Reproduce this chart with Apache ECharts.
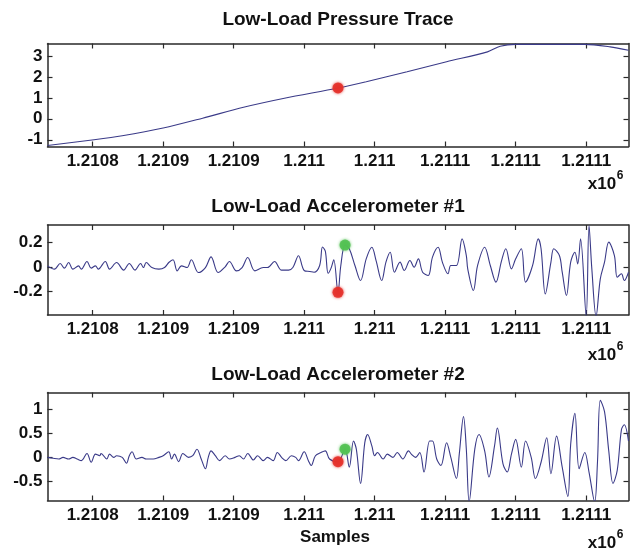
<!DOCTYPE html>
<html><head><meta charset="utf-8">
<script src="https://cdn.jsdelivr.net/npm/echarts@6/dist/echarts.min.js"></script>
<style>html,body{margin:0;padding:0;background:#fff}#c{width:635px;height:552px}</style>
</head><body><div id="c"></div>
<script>
// ---- shared x axis (samples) ----
const xTickValues = [1210800,1210850,1210900,1210950,1211000,1211050,1211100,1211150];
const xTickLabels = ['1.2108','1.2109','1.2109','1.211','1.211','1.2111','1.2111','1.2111'];
const xMin = 1210768, xMax = 1211180;

// ---- titles ----
const titles = ['Low-Load Pressure Trace','Low-Load Accelerometer #1','Low-Load Accelerometer #2'];

// ---- y ticks ----
const y1Ticks = [-1,0,1,2,3];
const y1Labels = ['-1','0','1','2','3'];
const y2Ticks = [-0.2,0,0.2];
const y2Labels = ['-0.2','0','0.2'];
const y3Ticks = [-0.5,0,0.5,1];
const y3Labels = ['-0.5','0','0.5','1'];

// ---- pressure trace ----
const pressureX = [1210768,1210801,1210821,1210850,1210878,1210907,1210936,1210974,1210994,1211023,1211051,1211080,1211089,1211100,1211149,1211167,1211180];
const pressureY = [-1.27,-1.0,-0.81,-0.44,0.03,0.55,0.98,1.47,1.77,2.24,2.72,3.19,3.46,3.55,3.55,3.43,3.27];
const pressureRed = [1210974, 1.47];

// ---- accelerometer #1 ----
const accel1X = [1210768,1210773,1210777,1210780,1210783,1210786,1210790,1210792,1210796,1210799,
1210802,1210804,1210809,1210812,1210817,1210822,1210826,1210830,1210834,1210836,
1210838,1210842,1210847,1210851,1210854,1210857,1210860,1210863,1210867,1210870,
1210875,1210880,1210884,1210889,1210894,1210897,1210902,1210906,1210910,1210915,
1210921,1210924,1210929,1210934,1210939,1210942,1210946,1210950,1210954,1210957,
1210961,1210963,1210965,1210967,1210969,1210971,1210974,1210976,1210979,1210982,
1210986,1210990,1210994,1210998,1211001,1211005,1211008,1211011,1211014,1211018,
1211021,1211025,1211028,1211031,1211034,1211038,1211041,1211045,1211048,1211052,
1211054,1211058,1211062,1211065,1211066,1211070,1211073,1211078,1211082,1211086,
1211090,1211093,1211097,1211100,1211104,1211107,1211112,1211116,1211118,1211121,
1211125,1211127,1211131,1211133,1211136,1211139,1211142,1211144,1211146,1211150,
1211152,1211154,1211157,1211160,1211163,1211166,1211170,1211172,1211175,1211177,
1211180];
const accel1Y = [0.011,-0.016,0.030,-0.008,0.038,-0.016,0.011,-0.016,0.046,-0.008,
0.011,-0.016,0.046,-0.016,0.038,-0.024,0.030,-0.024,0.030,-0.003,
0.038,-0.003,-0.016,-0.003,0.038,0.060,-0.030,0.011,-0.003,0.060,
-0.044,-0.003,0.084,-0.044,0.003,0.046,-0.030,-0.003,0.079,-0.030,
-0.003,-0.003,0.046,-0.024,-0.024,-0.003,0.093,-0.027,-0.035,-0.041,
0.014,0.165,0.130,-0.050,-0.010,0.060,-0.205,0.014,0.180,0.150,
0.014,-0.109,0.068,0.163,0.054,-0.109,0.041,0.122,-0.041,0.041,
-0.027,0.054,0.000,0.068,-0.041,-0.068,0.082,0.163,0.041,-0.054,
0.014,0.014,0.231,0.095,-0.014,-0.190,0.014,0.163,0.014,-0.122,
0.054,0.150,-0.014,0.068,0.150,-0.122,0.014,0.231,0.150,-0.218,
0.041,0.150,0.095,-0.041,-0.231,0.041,0.122,0.027,0.231,-0.400,
0.340,-0.014,-0.400,-0.095,0.041,0.204,0.095,-0.082,-0.054,-0.109,
-0.041];
const accel1Red = [1210974, -0.205];
const accel1Green = [1210979, 0.18];

// ---- accelerometer #2 ----
const accel2X = [1210768,1210772,1210776,1210779,1210783,1210786,1210789,1210792,1210796,1210799,
1210802,1210805,1210806,1210810,1210812,1210815,1210817,1210821,1210824,1210826,
1210828,1210831,1210835,1210838,1210843,1210847,1210850,1210854,1210856,1210858,
1210861,1210864,1210868,1210871,1210874,1210877,1210880,1210882,1210884,1210887,
1210890,1210894,1210897,1210901,1210904,1210907,1210910,1210914,1210917,1210921,
1210924,1210928,1210931,1210934,1210937,1210941,1210944,1210946,1210950,1210953,
1210955,1210958,1210962,1210965,1210968,1210974,1210979,1210982,1210985,1210987,
1210990,1210993,1210995,1210998,1211000,1211002,1211006,1211009,1211013,1211016,
1211020,1211024,1211026,1211029,1211032,1211035,1211039,1211041,1211044,1211047,
1211051,1211054,1211058,1211060,1211063,1211065,1211067,1211071,1211074,1211078,
1211081,1211085,1211087,1211091,1211094,1211097,1211100,1211104,1211107,1211111,
1211114,1211118,1211122,1211125,1211129,1211133,1211137,1211139,1211142,1211145,
1211149,1211152,1211156,1211158,1211160,1211163,1211166,1211169,1211172,1211175,
1211177,1211180];
const accel2Y = [0,-0.020,-0.034,0,-0.034,0,-0.034,-0.068,0.081,-0.101,
0.068,0.034,0.081,-0.034,0.068,0,0.034,0,-0.122,0.034,
0.115,-0.034,0,-0.034,-0.034,0,0.034,0.115,-0.034,0.068,
-0.088,0.081,0,0.034,0.169,-0.034,-0.237,0,0.135,0.034,
-0.068,0.034,-0.034,0,0.034,-0.034,0.081,-0.054,0.034,-0.068,
0,-0.068,0.101,0,-0.068,0.034,0,-0.068,0.115,-0.068,
-0.169,0.034,0.101,0.135,-0.034,-0.090,0.170,-0.203,0.338,0.169,
-0.541,0.304,0.473,0.237,0.034,0.101,-0.034,0.068,0,0.101,
-0.034,0.135,0.068,0,0.101,-0.304,0.338,0.338,-0.034,-0.169,
0.304,0,-0.439,0.068,0.845,0.169,-0.920,0.169,0.473,0.135,
-0.406,0.237,0.608,-0.135,-0.304,0.068,0.372,-0.203,0.338,0,
-0.439,-0.101,0.406,-0.338,0.439,-0.203,-0.811,0.270,0.913,-0.237,
0.101,-0.304,-0.920,-0.101,1.183,0.946,0.135,-0.541,-0.270,0.575,
0.676,0.338];
const accel2Red = [1210974, -0.09];
const accel2Green = [1210979, 0.17];

// ---- layout ----
const FONT = '"Liberation Sans", Arial, sans-serif';
const AXC = '#2a2a2a';
const LINEC = '#3a3a88';
const grids = [
  {left: 47.5, top: 43.5, width: 581, height: 103},
  {left: 47.5, top: 225, width: 581, height: 90},
  {left: 47.5, top: 392.5, width: 581, height: 108}
];
const yRanges = [[-1.32, 3.59], [-0.39, 0.344], [-0.894, 1.344]];
const yTicks = [y1Ticks, y2Ticks, y3Ticks];
const yLabels = [y1Labels, y2Labels, y3Labels];

function lookup(vals, labels, v) {
  for (let i = 0; i < vals.length; i++) if (Math.abs(vals[i] - v) < 1e-6) return labels[i];
  return '';
}

const xAxis = [], yAxis = [];
for (let g = 0; g < 3; g++) {
  ['bottom', 'top'].forEach((pos, k) => {
    xAxis.push({
      type: 'value', gridIndex: g, position: pos, min: xMin, max: xMax,
      axisLine: {show: true, onZero: false, lineStyle: {color: AXC, width: 1.5}},
      axisTick: {show: true, inside: true, length: 5, customValues: xTickValues, lineStyle: {color: AXC, width: 1.2}},
      axisLabel: {show: k === 0, customValues: xTickValues, margin: 6,
        formatter: v => lookup(xTickValues, xTickLabels, v),
        color: '#111', fontFamily: FONT, fontWeight: 'bold', fontSize: 17},
      splitLine: {show: false}
    });
  });
  ['left', 'right'].forEach((pos, k) => {
    yAxis.push({
      type: 'value', gridIndex: g, position: pos, min: yRanges[g][0], max: yRanges[g][1],
      axisLine: {show: true, onZero: false, lineStyle: {color: AXC, width: 1.5}},
      axisTick: {show: true, inside: true, length: 5, customValues: yTicks[g], lineStyle: {color: AXC, width: 1.2}},
      axisLabel: {show: k === 0, customValues: yTicks[g], margin: 5,
        formatter: v => lookup(yTicks[g], yLabels[g], v),
        color: '#111', fontFamily: FONT, fontWeight: 'bold', fontSize: 17},
      splitLine: {show: false}
    });
  });
}

function lineSeries(g, xs, ys, sm) {
  return {type: 'line', xAxisIndex: g * 2, yAxisIndex: g * 2, data: xs.map((x, i) => [x, ys[i]]),
    showSymbol: false, symbol: 'none', smooth: sm, lineStyle: {color: LINEC, width: 1.1}, animation: false, z: 2};
}
function marker(g, pt, color) {
  return {type: 'scatter', xAxisIndex: g * 2, yAxisIndex: g * 2, data: [pt], symbol: 'circle', symbolSize: 11,
    itemStyle: {color: color, opacity: 0.9, shadowBlur: 3, shadowColor: color}, animation: false, z: 5};
}

const series = [
  lineSeries(0, pressureX, pressureY, 0.3),
  marker(0, pressureRed, '#e4302a'),
  lineSeries(1, accel1X, accel1Y, 0.35),
  marker(1, accel1Red, '#e4302a'),
  marker(1, accel1Green, '#52c152'),
  lineSeries(2, accel2X, accel2Y, 0.35),
  marker(2, accel2Red, '#e4302a'),
  marker(2, accel2Green, '#52c152')
];

const titleY = [20, 207, 375];
const x10Y = [184, 355, 543];
const graphic = [];
titles.forEach((t, i) => graphic.push({type: 'text', x: 338, y: titleY[i],
  style: {text: t, align: 'center', verticalAlign: 'middle', fill: '#111', font: 'bold 19px ' + FONT}}));
x10Y.forEach(y => {
  graphic.push({type: 'text', x: 602, y: y, style: {text: 'x10', align: 'center', verticalAlign: 'middle', fill: '#111', font: 'bold 17px ' + FONT}});
  graphic.push({type: 'text', x: 620, y: y - 8, style: {text: '6', align: 'center', verticalAlign: 'middle', fill: '#111', font: 'bold 12px ' + FONT}});
});
graphic.push({type: 'text', x: 335, y: 537, style: {text: 'Samples', align: 'center', verticalAlign: 'middle', fill: '#111', font: 'bold 17px ' + FONT}});

const chart = echarts.init(document.getElementById('c'), null, {renderer: 'canvas'});
chart.setOption({backgroundColor: '#fff', animation: false, grid: grids, xAxis, yAxis, series, graphic});
</script></body></html>
